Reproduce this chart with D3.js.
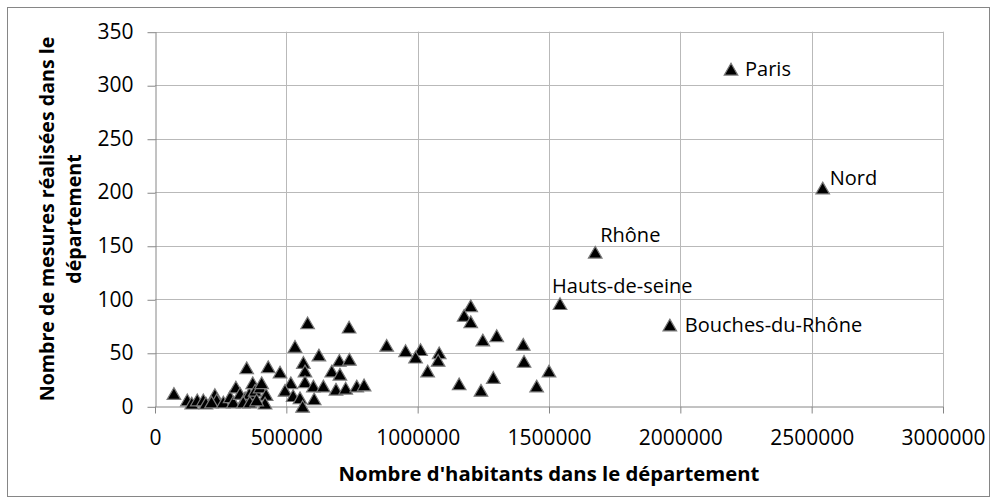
<!DOCTYPE html>
<html>
<head>
<meta charset="utf-8">
<script src="https://cdn.jsdelivr.net/npm/d3@7"></script>
<style>
  body { margin: 0; background: #fff; }
  svg { display: block; font-family: "Open Sans", sans-serif; }
  .tick text { fill: #000; }
</style>
</head>
<body>
<div id="chart"></div>
<script>
// habitants / mesures par département
const population = [
  2193000, 2542000, 1676000, 1542000, 1960000,
  1202000, 1177000, 1202000, 1248000, 1301000, 1402000, 1405000, 1500000, 1453000, 1288000,
  1241000, 1158000, 1038000, 1082000, 1078000, 1011000, 992000, 954000,
  581000, 739000, 533000, 882000, 624000, 565000, 702000, 740000, 571000, 673000, 704000,
  476000, 517000, 571000, 603000, 641000, 689000, 726000, 768000, 796000, 495000, 526000,
  552000, 606000, 562000,
  72000, 349000, 431000, 123000, 140000, 161000, 184000, 194000, 228000, 235000, 215000,
  260000, 286000, 298000, 308000, 324000, 343000, 359000, 372000, 381000, 400000, 406000,
  423000, 419000, 336000, 361000, 387000
];
const mesures = [
  315, 204, 144, 96, 76,
  94, 85, 79, 62, 66, 58, 42, 33, 19, 27,
  15, 21, 33, 50, 43, 53, 46, 52,
  78, 74, 56, 57, 48, 41, 43, 44, 33, 33, 30,
  32, 22, 23, 19, 19, 16, 17, 19, 20, 15, 10,
  8, 7, 0,
  12, 36, 37, 6, 3, 6, 6, 3, 11, 6, 4,
  4, 9, 4, 18, 12, 8, 12, 22, 15, 18, 22,
  11, 3, 4, 4, 6
];
// noms affichés (seulement les 5 premiers points)
const noms = ["Paris", "Nord", "Rhône", "Hauts-de-seine", "Bouches-du-Rhône"];

const xTicks = [0, 500000, 1000000, 1500000, 2000000, 2500000, 3000000];
const yTicks = [0, 50, 100, 150, 200, 250, 300, 350];

const data = population.map((p, i) => ({ x: p, y: mesures[i], name: noms[i] }));

// décalage des étiquettes par rapport au point
const labelOffset = {
  "Paris": [14, 0],
  "Nord": [7, -10],
  "Rhône": [5, -17],
  "Hauts-de-seine": [-8, -18],
  "Bouches-du-Rhône": [15, 0],
};

const width = 994, height = 504;
const margin = { top: 31.7, right: 51, bottom: 97.7, left: 155 };

const svg = d3.select("#chart").append("svg")
  .attr("width", width)
  .attr("height", height);

svg.append("rect")
  .attr("x", 7.5).attr("y", 7.5)
  .attr("width", 982).attr("height", 489)
  .attr("fill", "#fff")
  .attr("stroke", "#868686");

const x = d3.scaleLinear()
  .domain([0, 3000000])
  .range([margin.left, width - margin.right]);
const y = d3.scaleLinear()
  .domain([0, 350])
  .range([height - margin.bottom, margin.top]);

// grille
svg.append("g")
  .selectAll("line.h")
  .data(yTicks.slice(1))
  .join("line")
  .attr("x1", x(0)).attr("x2", x(3000000))
  .attr("y1", (d) => Math.round(y(d)) + 0.5)
  .attr("y2", (d) => Math.round(y(d)) + 0.5)
  .attr("stroke", "#b9b9b9");
svg.append("g")
  .selectAll("line.v")
  .data(xTicks.slice(1))
  .join("line")
  .attr("x1", (d) => Math.round(x(d)) + 0.5)
  .attr("x2", (d) => Math.round(x(d)) + 0.5)
  .attr("y1", y(350)).attr("y2", y(0))
  .attr("stroke", "#b9b9b9");

const yAxis = svg.append("g")
  .attr("transform", `translate(${Math.round(x(0)) + 0.5},0)`)
  .call(d3.axisLeft(y).tickValues(yTicks).tickSize(8).tickSizeOuter(0).tickPadding(14));
const xAxis = svg.append("g")
  .attr("transform", `translate(0,${Math.round(y(0)) + 0.5})`)
  .call(d3.axisBottom(x).tickValues(xTicks).tickFormat(d3.format("d")).tickSize(7).tickSizeOuter(0).tickPadding(17));

[yAxis, xAxis].forEach((g) => {
  g.select(".domain").attr("stroke", "#868686");
  g.selectAll(".tick line").attr("stroke", "#868686");
  g.selectAll(".tick text").attr("font-size", 21).attr("font-family", "Open Sans");
});
yAxis.selectAll(".tick line").attr("transform", "translate(0,0.5)");

// points
const tri = d3.symbol().type(d3.symbolTriangle).size(80);
svg.append("g")
  .selectAll("path")
  .data(data)
  .join("path")
  .attr("transform", (d) => `translate(${x(d.x)},${y(d.y) + 2})`)
  .attr("d", tri)
  .attr("fill", "#000")
  .attr("stroke", "#7a7a7a")
  .attr("stroke-width", 1.2);

// étiquettes
svg.append("g")
  .selectAll("text")
  .data(data.filter((d) => d.name))
  .join("text")
  .attr("x", (d) => x(d.x) + labelOffset[d.name][0])
  .attr("y", (d) => y(d.y) + labelOffset[d.name][1])
  .attr("dy", "0.35em")
  .attr("font-size", 20)
  .text((d) => d.name);

// titres
svg.append("text")
  .attr("x", (x(0) + x(3000000)) / 2)
  .attr("y", 481)
  .attr("text-anchor", "middle")
  .attr("font-weight", "bold")
  .attr("font-size", 20.3)
  .text("Nombre d'habitants dans le département");

const yTitle = svg.append("text")
  .attr("transform", `translate(0,${(y(0) + y(350)) / 2}) rotate(-90)`)
  .attr("text-anchor", "middle")
  .attr("font-weight", "bold")
  .attr("font-size", 19.6);
yTitle.append("tspan").attr("x", 0).attr("y", 54).text("Nombre de mesures réalisées dans le");
yTitle.append("tspan").attr("x", 0).attr("y", 81).text("département");
</script>
</body>
</html>
